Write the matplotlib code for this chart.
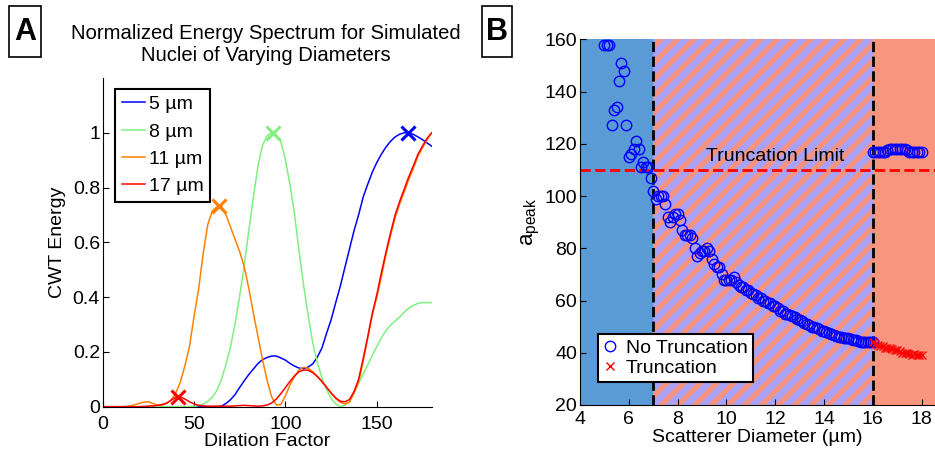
import numpy as np
from matplotlib import pyplot as plt
from matplotlib.patches import Rectangle

plt.rcParams["font.family"] = ["Liberation Sans", "DejaVu Sans"]
plt.rcParams["hatch.linewidth"] = 3.7

FONT = 14

# ---- Panel A data: normalized CWT energy vs dilation factor (read every 2.5) ----
dilation = np.arange(0, 180.1, 2.5)
energy_5um = [0] * 24 + [
    0.0, 0.0, 0.002, 0.012, 0.026, 0.045, 0.071, 0.095, 0.118, 0.138,
    0.158, 0.172, 0.18, 0.185, 0.185, 0.178, 0.17, 0.158, 0.148, 0.141,
    0.139, 0.145, 0.157, 0.182, 0.215, 0.268, 0.318, 0.38, 0.44, 0.508,
    0.575, 0.642, 0.70, 0.765, 0.812, 0.856, 0.892, 0.922, 0.948, 0.969,
    0.985, 0.995, 1.0, 1.0, 0.994, 0.985, 0.975, 0.963, 0.951]
energy_8um = [0] * 20 + [
    0.001, 0.004, 0.01, 0.02, 0.034, 0.06, 0.1, 0.155, 0.22, 0.305,
    0.405, 0.52, 0.645, 0.768, 0.88, 0.955, 0.99, 1.0, 0.99, 0.968,
    0.9, 0.81, 0.70, 0.565, 0.44, 0.33, 0.23, 0.16, 0.105, 0.062,
    0.03, 0.01, 0.0, 0.005, 0.02, 0.05, 0.085, 0.12, 0.152, 0.188,
    0.22, 0.252, 0.278, 0.298, 0.313, 0.328, 0.345, 0.36, 0.37, 0.377,
    0.38, 0.38, 0.38]
energy_11um = [
    0, 0, 0, 0, 0, 0.001, 0.003, 0.007, 0.012, 0.017,
    0.018, 0.012, 0.006, 0.006, 0.012, 0.025, 0.05, 0.09, 0.15, 0.22,
    0.33, 0.43, 0.56, 0.665, 0.715, 0.73, 0.732, 0.70, 0.655, 0.61,
    0.565, 0.51, 0.43, 0.34, 0.255, 0.17, 0.095, 0.035, 0.006, 0.008,
    0.04, 0.08, 0.11, 0.135, 0.144, 0.14, 0.128, 0.11, 0.09, 0.072,
    0.05, 0.03, 0.016, 0.01, 0.016, 0.05, 0.09, 0.165, 0.25, 0.335,
    0.40, 0.475, 0.555, 0.625, 0.69, 0.74, 0.785, 0.83, 0.87, 0.915,
    0.945, 0.975, 1.0]
energy_17um = [0] * 9 + [
    0.001, 0.002, 0.003, 0.005, 0.008, 0.013, 0.024, 0.035, 0.036, 0.028,
    0.018, 0.01, 0.005, 0.003, 0.002,
    0.002, 0.002, 0.002, 0.002, 0.002, 0.003, 0.004, 0.005, 0.004, 0.003, 0.002,
    0.003, 0.006, 0.014, 0.028, 0.048,
    0.07, 0.093, 0.113, 0.128, 0.134, 0.133, 0.124, 0.11, 0.092, 0.07,
    0.05, 0.032, 0.02, 0.018, 0.026, 0.055, 0.1, 0.175, 0.255, 0.34,
    0.41, 0.49, 0.565, 0.635, 0.70, 0.75, 0.795, 0.84, 0.88, 0.922,
    0.952, 0.98, 1.0]
peak_x = [166.8, 93.4, 63.7, 41.1]
peak_y = [1.0, 1.0, 0.732, 0.037]
series_labels = ["5 \u00b5m", "8 \u00b5m", "11 \u00b5m", "17 \u00b5m"]
series_colors = ["#0000ff", "#80f080", "#ff8000", "#ff0000"]

# ---- Panel B data: peak dilation vs scatterer diameter ----
diam_main = np.round(np.arange(5.0, 16.05, 0.1), 1)
apeak_main = [158, 158, 158, 127, 133, 134, 144, 151, 148, 127,
              115, 116, 118, 121, 118, 111, 113, 111, 111, 107,
              102, 99, 100, 100, 100, 97, 92, 90, 92, 93,
              93, 91, 87, 85, 85, 85, 84, 80, 77, 78,
              79, 79, 80, 79, 76, 74, 73, 73, 70, 68,
              68, 68, 68, 69, 67, 66, 65, 65, 64, 64,
              63, 62.5, 62, 61, 61, 60, 60, 59, 59, 58,
              58, 57, 56, 56, 55, 55, 54.5, 54, 53.5, 53,
              52.5, 52, 51.5, 51, 50.5, 50, 49.8, 49.5, 49, 48.5,
              48.3, 48, 47.5, 47, 46.7, 46.4, 46.2, 46, 45.8, 45.6,
              45.5, 45.4, 45, 45, 44.5, 44, 44, 44, 44, 44,
              44]
diam_upper = np.round(np.arange(16.0, 18.05, 0.1), 1)
apeak_upper = [117, 117, 117, 117, 117, 117, 117.5, 118, 118, 118, 118,
               118, 118, 118, 117.5, 117, 117, 117, 117, 117, 117]
apeak_trunc = [44, 43.5, 43, 42.5, 42.5, 42, 42, 42, 41.5, 41, 41,
               40.5, 40, 40, 40, 39.5, 39, 39.5, 39, 39, 39]
truncation_limit = 110
regime_edges = [7, 16]

curves = [energy_5um, energy_8um, energy_11um, energy_17um]
for c in curves:
    assert len(c) == len(dilation), len(c)
assert len(apeak_main) == len(diam_main)

fig = plt.figure(figsize=(9.35, 4.51), dpi=100)

# ---------------- Panel A ----------------
ax1 = fig.add_axes([0.1098, 0.0982, 0.3519, 0.7288])
for vals, lab, col in zip(curves, series_labels, series_colors):
    ax1.plot(dilation, vals, color=col, linewidth=1.1, label=lab)
for px, py, col in zip(peak_x, peak_y, series_colors):
    ax1.plot(px, py, marker="x", color=col, markersize=10, mew=2.2, linestyle="none")
ax1.set_xlim(0, 180)
ax1.set_ylim(0, 1.2)
ax1.set_xticks([0, 50, 100, 150])
ax1.set_yticks([0, 0.2, 0.4, 0.6, 0.8, 1])
ax1.set_yticklabels(["0", "0.2", "0.4", "0.6", "0.8", "1"])
ax1.spines["top"].set_visible(False)
ax1.spines["right"].set_visible(False)
ax1.tick_params(direction="in", labelsize=FONT, length=4, pad=2)
ax1.tick_params(axis="x", pad=7)
ax1.set_xlabel("Dilation Factor", fontsize=FONT, labelpad=0)
ax1.set_ylabel("CWT Energy", fontsize=FONT, labelpad=5)
leg1 = ax1.legend(loc="upper left", bbox_to_anchor=(0.037, 0.967), borderaxespad=0,
                  fontsize=FONT, handlelength=1.2, handletextpad=0.2,
                  labelspacing=0.5, borderpad=0.35, fancybox=False,
                  edgecolor="black", framealpha=1)
leg1.get_frame().set_linewidth(1.5)

fig.text(0.284, 0.902, "Normalized Energy Spectrum for Simulated\nNuclei of Varying Diameters",
         ha="center", va="center", fontsize=14.6, linespacing=1.2)

# ---------------- Panel B ----------------
ax2 = fig.add_axes([0.6203, 0.102, 0.3797, 0.8109])
ax2.axvspan(4, regime_edges[0], facecolor="#5b9bd5", edgecolor="none", zorder=0)
ax2.axvspan(regime_edges[0], regime_edges[1], facecolor="#a9a1f7",
            edgecolor="#f7937d", hatch="//", linewidth=0, zorder=0)
ax2.axvspan(regime_edges[1], 20, facecolor="#f8957f", edgecolor="none", zorder=0)
for xe in regime_edges:
    ax2.axvline(xe, color="black", linestyle="--", linewidth=2, zorder=1)
ax2.axhline(truncation_limit, color="red", linestyle="--", linewidth=2, zorder=1)
ax2.text(12.0, 115, "Truncation Limit", ha="center", va="center", fontsize=FONT)

ax2.plot(diam_main, apeak_main, linestyle="none", marker="o", markersize=7.5,
         mfc="none", mec="#0000ff", mew=1, label="No Truncation", zorder=3)
ax2.plot(diam_upper, apeak_upper, linestyle="none", marker="o", markersize=7.5,
         mfc="none", mec="#0000ff", mew=1, zorder=3)
ax2.plot(diam_upper, apeak_trunc, linestyle="none", marker="x", markersize=6,
         color="#ff0000", mew=1, label="Truncation", zorder=3)

ax2.set_xlim(4, 18.55)
ax2.set_ylim(20, 160)
ax2.set_xticks([4, 6, 8, 10, 12, 14, 16, 18])
ax2.set_yticks([20, 40, 60, 80, 100, 120, 140, 160])
ax2.spines["top"].set_visible(False)
ax2.spines["right"].set_visible(False)
ax2.tick_params(direction="in", labelsize=FONT, length=4, pad=2)
ax2.tick_params(axis="x", pad=4)
ax2.set_xlabel("Scatterer Diameter (\u00b5m)", fontsize=FONT, labelpad=1)
ax2.set_ylabel(r"$\mathregular{a_{peak}}$", fontsize=FONT + 2, labelpad=2)
leg2 = ax2.legend(loc="lower left", bbox_to_anchor=(0.05, 0.063), borderaxespad=0,
                  fontsize=FONT, handlelength=0.8, handletextpad=0.4,
                  labelspacing=0.15, borderpad=0.25, fancybox=False,
                  edgecolor="black", framealpha=1)
leg2.get_frame().set_linewidth(1.5)

# ---------------- Panel letters ----------------
for x0, w, letter in [(0.0096, 0.0342, "A"), (0.5155, 0.0321, "B")]:
    fig.add_artist(Rectangle((x0, 0.8736), w, 0.1131, transform=fig.transFigure,
                             facecolor="white", edgecolor="black", linewidth=1.2))
    fig.text(x0 + w / 2, 0.8736 + 0.1131 / 2, letter, ha="center", va="center",
             fontsize=22, fontweight="bold")

fig.savefig("out.png", dpi=100)
